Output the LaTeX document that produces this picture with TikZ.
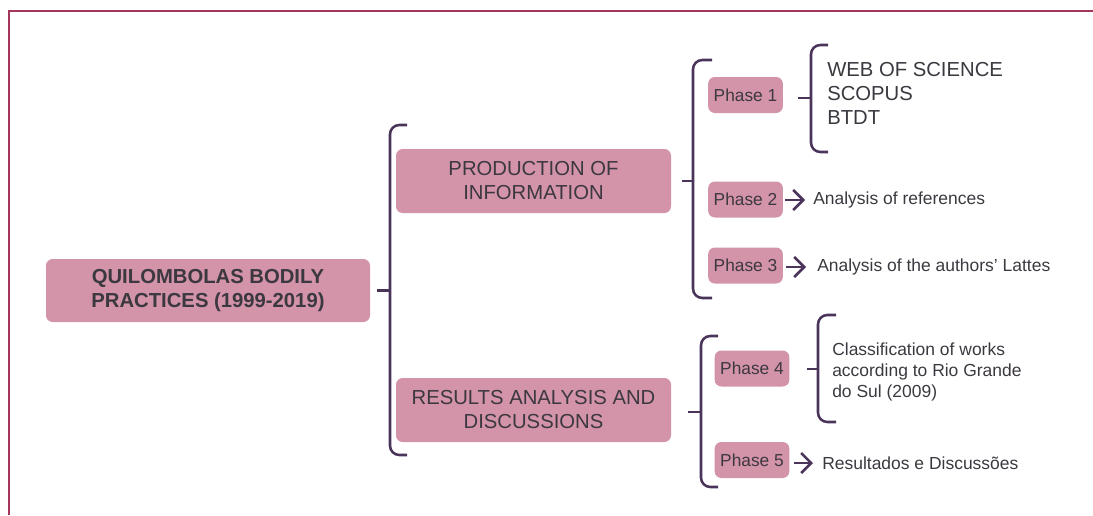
\documentclass[tikz,border=0pt]{standalone}
\usepackage{fontspec}
\setmainfont{Liberation Sans}
\usetikzlibrary{arrows.meta}
\definecolor{framec}{RGB}{163,54,92}
\definecolor{boxc}{RGB}{211,147,169}
\definecolor{brkc}{RGB}{75,52,90}
\definecolor{txtc}{RGB}{60,56,64}
\tikzset{
  pbox/.style={fill=boxc, rounded corners=5pt, inner sep=0pt, align=center, text=txtc},
  bigbox/.style={pbox, minimum width=206.25pt, minimum height=48pt, font=\fontsize{15.2}{18}\selectfont},
  phbox/.style={pbox, minimum width=56pt, minimum height=27pt, font=\fontsize{13}{15}\selectfont},
  brk/.style={draw=brkc, line width=1.9pt, rounded corners=7pt},
  tick/.style={draw=brkc, line width=1.9pt},
  arr/.style={draw=brkc, line width=1.9pt, -{Straight Barb[length=7.5pt,width=15pt]}},
  desc/.style={inner sep=0pt, align=left, text=txtc, font=\fontsize{13.1}{15.75}\selectfont},
}
\begin{document}
\begin{tikzpicture}[x=0.75pt, y=-0.75pt]
\useasboundingbox (0,0) rectangle (1093,515);
% frame
\draw[framec, line width=1.9pt] (9,515) -- (9,11) -- (1093,11);

% main box
\node[pbox, minimum width=243pt, minimum height=47.25pt, font=\bfseries\fontsize{15.2}{18}\selectfont] (main) at (208,290.5) {QUILOMBOLAS BODILY\\PRACTICES (1999-2019)};

% second level
\node[bigbox] (prod) at (533.5,181) {PRODUCTION OF\\INFORMATION};
\node[bigbox] (res) at (533.5,410) {RESULTS ANALYSIS AND\\DISCUSSIONS};

% bracket 1
\coordinate (b1t) at (407,125);
\coordinate (b1b) at (407,455);
\coordinate (b1m) at (390,291);
\draw[brk] (b1t) -| (b1m) |- (b1b);
\draw[tick, shorten <=5.25pt] (main.east) -- (main.east -| b1m);

% phases
\node[phbox] (p1) at (745.5,95) {Phase 1};
\node[phbox] (p2) at (745.5,199.5) {Phase 2};
\node[phbox] (p3) at (745.5,265.5) {Phase 3};
\node[phbox] (p4) at (752,368.5) {Phase 4};
\node[phbox] (p5) at (752,460) {Phase 5};

% bracket 2
\coordinate (b2t) at (712,60);
\coordinate (b2b) at (712,298);
\coordinate (b2m) at (693,181);
\draw[brk] (b2t) -| (b2m) |- (b2b);
\draw[tick, shorten <=8.25pt] (prod.east) -- (prod.east -| b2m);

% bracket 4
\coordinate (b4t) at (718,336);
\coordinate (b4b) at (718,487);
\coordinate (b4m) at (701,412);
\draw[brk] (b4t) -| (b4m) |- (b4b);
\draw[tick, shorten <=12.75pt] (res.east |- b4m) -- (b4m);

% bracket 3 (phase 1)
\coordinate (b3t) at (828,45);
\coordinate (b3b) at (828,152);
\coordinate (b3m) at (811,98);
\draw[brk] (b3t) -| (b3m) |- (b3b);
\draw[tick, shorten <=11pt] (p1.east |- b3m) -- (b3m);
\node[inner sep=0pt, align=left, text=txtc, font=\fontsize{15.2}{18}\selectfont, anchor=west] (db) at (827,93.5) {WEB OF SCIENCE\\SCOPUS\\BTDT};

% bracket 5 (phase 4)
\coordinate (b5t) at (836,315);
\coordinate (b5b) at (836,422);
\coordinate (b5m) at (818,369);
\draw[brk] (b5t) -| (b5m) |- (b5b);
\draw[tick, shorten <=12.75pt] (p4.east |- b5m) -- (b5m);
\node[desc, anchor=west] (cls) at (832,371.5) {Classification of works\\according to Rio Grande\\do Sul (2009)};

% arrows
\node[desc, anchor=west] (t2) at (813,200) {Analysis of references};
\draw[arr, shorten <=1.5pt, shorten >=6pt] (p2.east |- t2.west) -- (t2.west);
\node[desc, anchor=west] (t3) at (817,267) {Analysis of the authors’ Lattes};
\draw[arr, shorten <=2.25pt, shorten >=8.25pt] (p3.east |- t3.west) -- (t3.west);
\node[desc, anchor=west] (t5) at (822,463) {Resultados e Discussões};
\draw[arr, shorten <=3pt, shorten >=6.75pt] (p5.east |- t5.west) -- (t5.west);
\end{tikzpicture}
\end{document}
